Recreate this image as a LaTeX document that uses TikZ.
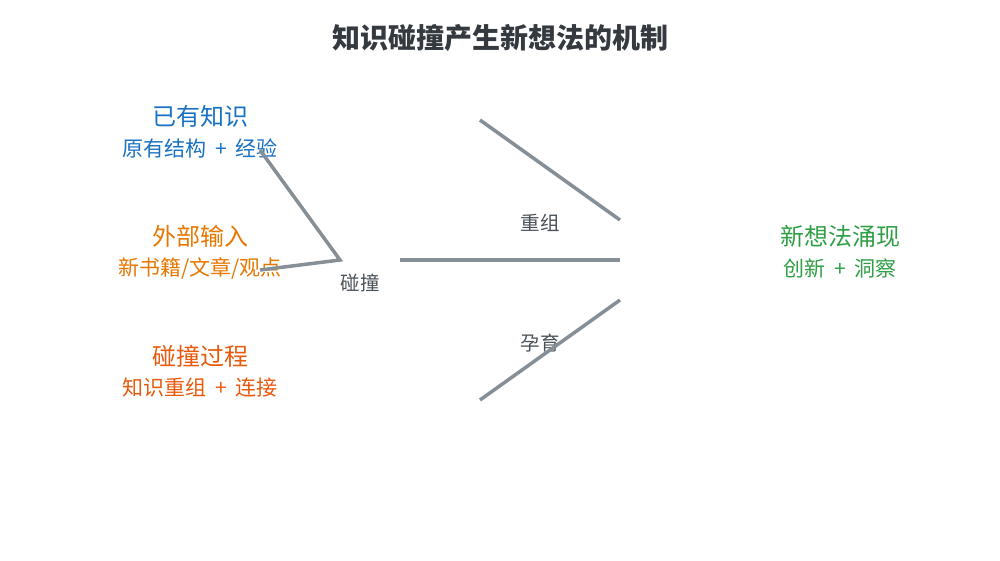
\documentclass[tikz,border=0pt]{standalone}
\usepackage{fontspec}
\setmainfont{Noto Sans CJK SC}
\definecolor{cblue}{HTML}{1971C2}
\definecolor{corange}{HTML}{E67700}
\definecolor{cred}{HTML}{E8590C}
\definecolor{cgreen}{HTML}{2F9E44}
\definecolor{ctitle}{HTML}{343A40}
\definecolor{cline}{HTML}{868E96}
\definecolor{clabel}{HTML}{495057}
\newcommand{\plusgap}{\hspace{0.42em}+\hspace{0.42em}}
\tikzset{
  conn/.style={draw=cline, line width=3.5pt},
  head/.style={inner sep=0pt, font=\fontsize{24}{28}\selectfont},
  sub/.style={inner sep=0pt, font=\fontsize{21}{25}\selectfont},
  lab/.style={inner sep=0pt, text=clabel, font=\fontsize{19.5}{22}\selectfont},
}
\begin{document}
\begin{tikzpicture}[x=1pt,y=-1pt]
\useasboundingbox (0,0) rectangle (1000,560);
\node[inner sep=0pt, text=ctitle, font=\fontsize{28}{32}\selectfont\bfseries] (title) at (500,38) {知识碰撞产生新想法的机制};
\node[head, text=cblue] (k1) at (200,116) {已有知识};
\node[sub, text=cblue] (k1s) at (200,148) {原有结构\plusgap 经验};
\node[head, text=corange] (k2) at (200,236) {外部输入};
\node[sub, text=corange] (k2s) at (200,268) {新书籍/文章/观点};
\node[head, text=cred] (k3) at (200,356) {碰撞过程};
\node[sub, text=cred] (k3s) at (200,388) {知识重组\plusgap 连接};
\node[head, text=cgreen] (n1) at (840,236) {新想法涌现};
\node[sub, text=cgreen] (n1s) at (840,268) {创新\plusgap 洞察};
\node[lab] (lc) at (360,283) {碰撞};
\node[lab] (lr) at (540,223) {重组};
\node[lab] (ly) at (540,343) {孕育};
\coordinate (a1) at (260,150);
\coordinate (a2) at (340,260);
\coordinate (a3) at (260,270);
\coordinate (b1) at (400,260);
\coordinate (b2) at (620,260);
\coordinate (c1) at (480,120);
\coordinate (c2) at (620,220);
\coordinate (d1) at (480,400);
\coordinate (d2) at (620,300);
\draw[conn] (a1) -- (a2) -- (a3);
\draw[conn] (b1) -- (b2);
\draw[conn] (c1) -- (c2);
\draw[conn] (d1) -- (d2);
\end{tikzpicture}
\end{document}
